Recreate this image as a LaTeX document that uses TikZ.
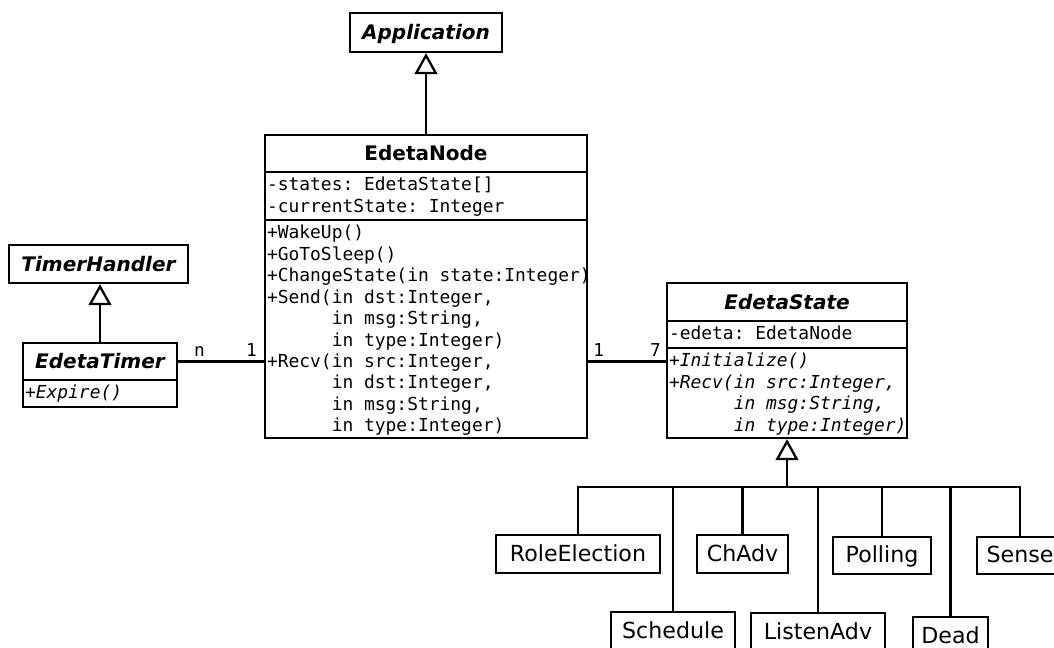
\documentclass[tikz,border=0pt]{standalone}
\usepackage{fontspec}
\setmainfont{DejaVu Sans}
\setmonofont{DejaVu Sans Mono}
\usetikzlibrary{arrows.meta}
\newcommand{\argind}{\hphantom{+Recv(}}

\tikzset{
  uml/.style={draw,line width=1.3pt,inner sep=0pt},
  sized/.style 2 args={minimum width=#1*0.02cm,minimum height=#2*0.02cm},
  cname/.style={uml,font=\fontsize{11.4}{13}\selectfont\bfseries,text height=8pt,text depth=0pt},
  aname/.style={cname,font=\fontsize{11.4}{13}\selectfont\bfseries\itshape},
  member/.style={font=\ttfamily\fontsize{10.2}{12.2}\selectfont,align=left,anchor=base west,
    inner sep=0pt,xshift=1.6pt,yshift=-11.4pt-(#1-1)*12.2pt},
  member/.default=1,
  leaf/.style={uml,font=\fontsize{12.6}{14}\selectfont,text height=8pt,text depth=0pt},
  gen/.style={-{Triangle[open,length=12pt,width=13pt]},line width=1.3pt},
  assoc/.style={line width=1.3pt},
  mult/.style={font=\ttfamily\fontsize{10.1}{12}\selectfont,inner sep=0pt}
}

\begin{document}
\begin{tikzpicture}[x=0.02cm,y=-0.02cm]
\useasboundingbox (0,0) rectangle (1054,648);

\node[aname,sized={152}{39}] (app) at (426,32.5) {Application};

% EdetaNode
\node[cname,sized={322}{37}] (enode) at (426,153.5) {EdetaNode};
\node[uml,sized={322}{48}] (enode-attr) at (426,196) {};
\node[uml,sized={322}{218}] (enode-ops) at (426,329) {};
\node[member=2] (enode-attrtext) at (enode-attr.north west)
  {-states: EdetaState[]\\-currentState: Integer};
\node[member=10] (enode-optext) at (enode-ops.north west)
  {+WakeUp()\\
   +GoToSleep()\\
   +ChangeState(in state:Integer)\\
   +Send(in dst:Integer,\\
   \argind in msg:String,\\
   \argind in type:Integer)\\
   +Recv(in src:Integer,\\
   \argind in dst:Integer,\\
   \argind in msg:String,\\
   \argind in type:Integer)};
\draw[gen] (enode.north) -- (app.south);

% timer
\node[aname,sized={179}{38}] (thandler) at (98.5,264) {TimerHandler};
\node[aname,sized={154}{37}] (etimer) at (100,361.5) {EdetaTimer};
\node[uml,sized={154}{27}] (etimer-ops) at (100,393.5) {};
\node[member] (etimer-optext) at (etimer-ops.north west) {+\textit{Expire()}};
\draw[gen] (etimer.north) -- (etimer.north |- thandler.south);

% EdetaState
\node[aname,sized={240}{38}] (estate) at (787,302) {EdetaState};
\node[uml,sized={240}{27}] (estate-attr) at (787,334.5) {};
\node[uml,sized={240}{90}] (estate-ops) at (787,393) {};
\node[member] (estate-attrtext) at (estate-attr.north west) {-edeta: EdetaNode};
\node[member=4] (estate-optext) at (estate-ops.north west)
  {+\textit{Initialize()}\\
   +\textit{Recv(in src:Integer,}\\
   \argind\textit{in msg:String,}\\
   \argind\textit{in type:Integer)}};

% associations
\draw[assoc] (etimer.east) -- (etimer.east -| enode-ops.west)
  node[mult,pos=0,anchor=base west,xshift=8.5pt,yshift=2.8pt] {n}
  node[mult,pos=1,anchor=base east,xshift=-3.4pt,yshift=2.8pt] {1};
\draw[assoc] (etimer.east -| enode-ops.east) -- (etimer.east -| estate-ops.west)
  node[mult,pos=0,anchor=base west,xshift=2.3pt,yshift=3pt] {1}
  node[mult,pos=1,anchor=base east,xshift=-2.3pt,yshift=3pt] {7};

% states
\node[leaf,sized={164}{38}] (role) at (578,554) {RoleElection};
\node[leaf,sized={124}{38}] (sched) at (673,631) {Schedule};
\node[leaf,sized={91}{38}] (chadv) at (742.5,554) {ChAdv};
\node[leaf,sized={134}{38}] (listen) at (818,632) {ListenAdv};
\node[leaf,sized={98}{37}] (poll) at (882,555.5) {Polling};
\node[leaf,sized={75}{38}] (dead) at (950.5,636) {Dead};
\node[leaf,sized={86}{37}] (sense) at (1020,555.5) {Sense};

\coordinate (hub) at (787,487);
\foreach \s in {role,sched,chadv,listen,poll,dead,sense}
  \draw[assoc] (\s.north) |- (hub);
\draw[gen] (hub) -- (estate-ops.south);
\end{tikzpicture}
\end{document}
